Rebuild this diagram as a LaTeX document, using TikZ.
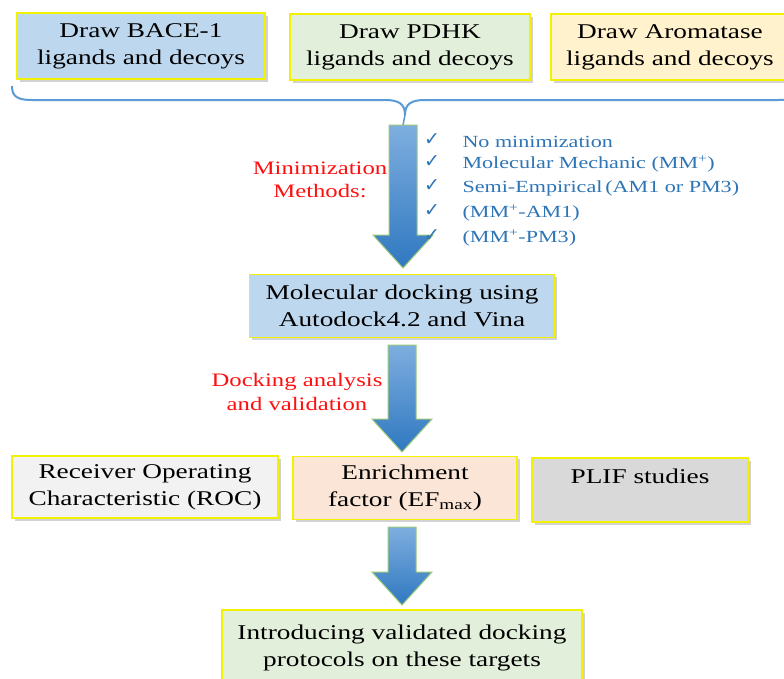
\documentclass[tikz,border=0pt]{standalone}
\usepackage{fontspec}
\setmainfont{Liberation Serif}[FakeStretch=1.3]
\newfontfamily\symfont{DejaVu Sans}
\usetikzlibrary{shadows,calc}

\definecolor{bluebox}{HTML}{BDD7EE}
\definecolor{greenbox}{HTML}{E2EFDA}
\definecolor{yellowbox}{HTML}{FFF2CC}
\definecolor{lightgraybox}{HTML}{F2F2F2}
\definecolor{peachbox}{HTML}{FBE5D6}
\definecolor{graybox}{HTML}{D9D9D9}
\definecolor{boxyellow}{HTML}{F2F200}
\definecolor{bracecol}{HTML}{5B9BD5}
\definecolor{arrtop}{HTML}{7EAEDF}
\definecolor{arrbot}{HTML}{2F78C0}
\definecolor{arrgreen}{HTML}{9CC97A}
\definecolor{chkblue}{HTML}{2E75B6}
\definecolor{redtxt}{HTML}{FF1010}

\newcommand\blockarrow[2]{\path[blockarr] let \p1=(#1), \p2=(#2) in
  (\x1-14pt,\y1) -- (\x1+14pt,\y1) -- (\x1+14pt,\y2+33pt) -- (\x1+30pt,\y2+33pt)
  -- (\x1,\y2) -- (\x1-30pt,\y2+33pt) -- (\x1-14pt,\y2+33pt) -- cycle;}

\tikzset{
  box/.style={draw=boxyellow, line width=1.3pt,
    drop shadow={shadow xshift=2.5pt, shadow yshift=-2.5pt, opacity=0.35},
    align=center, inner sep=0pt, font=\fontsize{21}{27}\selectfont},
  blockarr/.style={top color=arrtop, bottom color=arrbot, draw=arrgreen, line width=1pt},
  redlbl/.style={text=redtxt, align=center, font=\fontsize{19}{23}\selectfont},
  chk/.style={text=chkblue, anchor=west, font=\fontsize{17}{18}\selectfont},
  chkmark/.style={text=chkblue, font=\symfont\fontsize{19}{20}\selectfont},
}

\begin{document}
\begin{tikzpicture}[x=1pt,y=-1pt]
\useasboundingbox[fill=white] (0,0) rectangle (784,678);

% top boxes
\node[box, fill=bluebox, minimum width=248, minimum height=66] (b1) at (141,46) {Draw BACE-1\\ligands and decoys};
\node[box, fill=greenbox, minimum width=240, minimum height=66] (b2) at (410,47) {Draw PDHK\\ligands and decoys};
\node[box, fill=yellowbox, minimum width=238, minimum height=66] (b3) at (670,47) {Draw Aromatase\\ligands and decoys};

% brace
\coordinate (bl) at (12,86);
\coordinate (bt) at (405,115);
\coordinate (br) at (798,86);
\draw[bracecol, line width=2pt] (bl) .. controls (12,97) and (18,100) .. (32,100) -- (385,100)
  .. controls (399,100) and (405,104) .. (bt) .. controls (405,104) and (411,100) .. (425,100)
  -- (778,100) .. controls (792,100) and (798,97) .. (br);

% arrow 1
\coordinate (a1s) at (403,125);
\coordinate (a1e) at (403,268);
\draw[bracecol, line width=1.5pt] (bt) -- (a1s);
\blockarrow{a1s}{a1e}

\node[redlbl] (mm) at (320,180) {Minimization\\Methods:};

\foreach \i/\yy/\t in {1/142/{No minimization},
  2/164/{Molecular Mechanic (MM\textsuperscript{+})},
  3/188/{Semi-Empirical\,(AM1 or PM3)},
  4/213/{(MM\textsuperscript{+}-AM1)},
  5/238/{(MM\textsuperscript{+}-PM3)}}{
  \node[chkmark] (c\i) at (432,\yy-2) {✓};
  \node[chk] (t\i) at (459,\yy) {\t};
}

% docking box
\node[box, fill=bluebox, minimum width=305, minimum height=63] (b4) at (402,306) {Molecular docking using\\Autodock4.2 and Vina};

% arrow 2
\coordinate (a2s) at (402,345);
\coordinate (a2e) at (402,452);
\blockarrow{a2s}{a2e}
\node[redlbl, font=\fontsize{19}{24}\selectfont] (da) at (297,392) {Docking analysis\\and validation};

% row of analysis boxes
\node[box, fill=lightgraybox, minimum width=266, minimum height=62] (b5) at (145,487) {Receiver Operating\\Characteristic (ROC)};
\node[box, fill=peachbox, minimum width=224, minimum height=63] (b6) at (405,488) {Enrichment\\factor (EF\textsubscript{max})};
\node[box, fill=graybox, minimum width=216, minimum height=64] (b7) at (640,490) {PLIF studies\\~};

% arrow 3
\coordinate (a3s) at (402,527);
\coordinate (a3e) at (402,605);
\blockarrow{a3s}{a3e}

% final box
\node[box, fill=greenbox, minimum width=360, minimum height=76] (b8) at (402,648) {Introducing validated docking\\protocols on these targets};
\end{tikzpicture}
\end{document}
